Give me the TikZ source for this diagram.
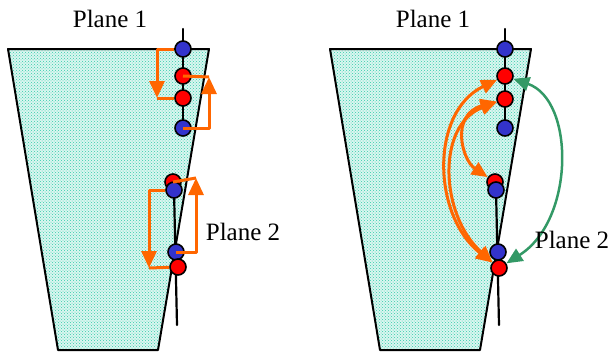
\documentclass[tikz,border=0pt]{standalone}
\usepackage{fontspec}
\setmainfont{Liberation Serif}
\usetikzlibrary{arrows.meta,patterns}
\definecolor{ablue}{RGB}{51,51,204}
\definecolor{aorange}{RGB}{255,102,0}
\definecolor{agreen}{RGB}{51,153,102}
\definecolor{ateal}{RGB}{51,204,170}

\begin{document}
\begin{tikzpicture}[line cap=round,line join=round,x=1pt,y=-1pt,
  ball/.style={circle,draw=black,line width=1.6pt,minimum size=16pt,inner sep=0pt},
  bb/.style={ball,fill=ablue},
  rb/.style={ball,fill=red},
  oline/.style={draw=aorange,line width=3pt,line cap=butt},
  oarr/.style={oline,-{Triangle[length=17pt,width=15pt]}},
  ocurve/.style={draw=aorange,line width=3pt,{Triangle[length=16pt,width=14pt]}-{Triangle[length=16pt,width=14pt]}},
  gcurve/.style={draw=agreen,line width=2.5pt,{Triangle[length=16pt,width=14pt]}-{Triangle[length=16pt,width=14pt]}},
  lbl/.style={font=\fontsize{25}{28}\selectfont}]
\useasboundingbox (0,0) rectangle (613,354);
% the two blocks
\foreach \dx in {0,322} {
  \fill[ateal!18] (8+\dx,49) -- (209+\dx,49) -- (158+\dx,350) -- (58+\dx,350) -- cycle;
  \fill[pattern=crosshatch dots,pattern color=ateal] (8+\dx,49) -- (209+\dx,49) -- (158+\dx,350) -- (58+\dx,350) -- cycle;
  \draw[line width=2pt] (8+\dx,49) -- (209+\dx,49) -- (158+\dx,350) -- (58+\dx,350) -- cycle;
  \draw[line width=2.2pt] (183+\dx,29) -- (183+\dx,128);
  \draw[line width=2.2pt] (174+\dx,190) -- (177+\dx,325);
}
% left block
\node[bb] (L-b1) at (183,49) {};
\node[rb] (L-r1) at (183,76) {};
\node[rb] (L-r2) at (183,98) {};
\node[bb] (L-b2) at (183,128) {};
\node[rb] (L-r3) at (173,182) {};
\node[bb] (L-b3) at (174,190) {};
\node[bb] (L-b4) at (176,252) {};
\node[rb] (L-r4) at (178,267) {};
\coordinate (L-c1) at (157,98);
\coordinate (L-c2) at (209,77);
\coordinate (L-c3) at (149,268);
\coordinate (L-c4) at (196,178);
\draw[oarr] (L-b1) -| (L-c1);
\draw[oline] (L-c1) -- (L-r2);
\draw[oarr] (L-b2.center) -| (L-c2);
\draw[oline] (L-c2) -- (L-r1.center);
\draw[oarr] (L-b3) -| (L-c3);
\draw[oline] (L-c3) -- (L-r4);
\draw[oarr] (L-b4.center) -| (L-c4);
\draw[oline] (L-c4) -- (L-r3.center);
\node[lbl] (L-p1) at (110,19) {Plane 1};
\node[lbl] (L-p2) at (243,232) {Plane 2};
% right block
\node[bb] (R-b1) at (505,49) {};
\node[rb] (R-r1) at (505,76) {};
\node[rb] (R-r2) at (505,99) {};
\node[bb] (R-b2) at (505,128) {};
\node[rb] (R-r3) at (495,182) {};
\node[bb] (R-b3) at (496,190) {};
\node[bb] (R-b4) at (498,252) {};
\node[rb] (R-r4) at (499,268) {};
\draw[ocurve] (R-r1) .. controls (430,112) and (432,215) .. (R-r4);
\draw[ocurve] (R-r2) .. controls (436,125) and (440,215) .. (R-r4);
\draw[ocurve] (R-r2) .. controls (450,115) and (462,160) .. (R-r3);
\draw[gcurve] (R-r1) .. controls (575,100) and (575,220) .. (R-r4);
\node[lbl] (R-p1) at (433,19) {Plane 1};
\node[lbl] (R-p2) at (572,240) {Plane 2};
\end{tikzpicture}
\end{document}
